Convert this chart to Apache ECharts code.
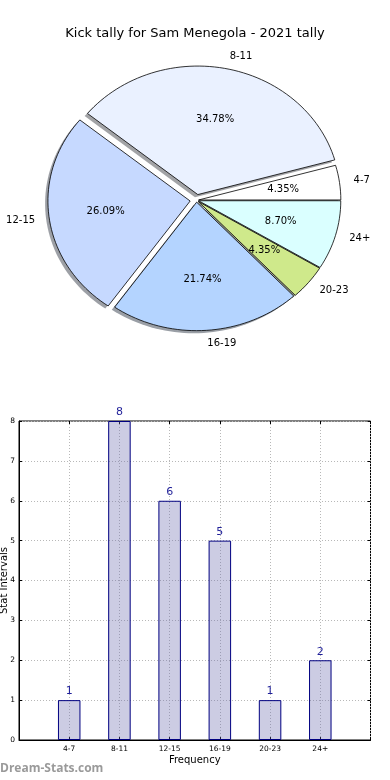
<!DOCTYPE html>
<html>
<head>
<meta charset="utf-8">
<script src="https://cdn.jsdelivr.net/npm/echarts@6/dist/echarts.min.js"></script>
<style>
html,body{margin:0;padding:0;background:#fff;}
#chart{width:390px;height:780px;}
</style>
</head>
<body>
<div id="chart"></div>
<script>
// ---- data ----
const titleText = 'Kick tally for Sam Menegola - 2021 tally';
const categories = ['4-7', '8-11', '12-15', '16-19', '20-23', '24+'];
const counts = [1, 8, 6, 5, 1, 2];
const yTicks = [0, 1, 2, 3, 4, 5, 6, 7, 8];

// ---- styles ----
const pieColors = ['#ffffff', '#eaf1ff', '#c6d9ff', '#b4d4ff', '#cfe98b', '#daffff'];
const explode = [0.015, 0.045, 0.045, 0.015, 0.015, 0.015];
const FONT = 'DejaVu Sans';

const total = counts.reduce((a, b) => a + b, 0);
let acc = 0;
const pieData = counts.map((v, i) => {
  const s = acc / total;
  acc += v;
  return [s, acc / total, v, i];
});

function shade(hex) {
  const r = parseInt(hex.slice(1, 3), 16), g = parseInt(hex.slice(3, 5), 16), b = parseInt(hex.slice(5, 7), 16);
  return 'rgba(' + Math.round(r * 0.3) + ',' + Math.round(g * 0.3) + ',' + Math.round(b * 0.3) + ',0.5)';
}

function wedgePoints(api, t1, t2, ox, oy) {
  const pts = [api.coord([ox, oy])];
  const n = Math.max(8, Math.ceil((t2 - t1) / (Math.PI / 90)));
  for (let k = 0; k <= n; k++) {
    const t = t1 + (t2 - t1) * k / n;
    pts.push(api.coord([ox + Math.cos(t), oy + Math.sin(t)]));
  }
  return pts;
}

function renderShadow(params, api) {
  const i = params.dataIndex;
  const t1 = api.value(0) * 2 * Math.PI, t2 = api.value(1) * 2 * Math.PI, tm = (t1 + t2) / 2;
  const e = explode[i];
  const ox = e * Math.cos(tm) - 0.02, oy = e * Math.sin(tm) - 0.02;
  return {
    type: 'polygon',
    shape: { points: wedgePoints(api, t1, t2, ox, oy) },
    style: { fill: shade(pieColors[i]), stroke: null }
  };
}

function renderWedge(params, api) {
  const i = params.dataIndex;
  const t1 = api.value(0) * 2 * Math.PI, t2 = api.value(1) * 2 * Math.PI, tm = (t1 + t2) / 2;
  const e = explode[i];
  const ox = e * Math.cos(tm), oy = e * Math.sin(tm);
  const lp = api.coord([ox + 1.1 * Math.cos(tm), oy + 1.1 * Math.sin(tm)]);
  const pp = api.coord([ox + 0.6 * Math.cos(tm), oy + 0.6 * Math.sin(tm)]);
  const pct = (api.value(2) / total * 100).toFixed(2) + '%';
  return {
    type: 'group',
    children: [
      {
        type: 'polygon',
        shape: { points: wedgePoints(api, t1, t2, ox, oy) },
        style: { fill: pieColors[i], stroke: '#000', lineWidth: 0.8 }
      },
      {
        type: 'text', z2: 20,
        style: {
          x: lp[0], y: lp[1], text: categories[i],
          align: Math.cos(tm) > 0 ? 'left' : 'right', verticalAlign: 'middle',
          font: '10px "' + FONT + '"', fill: '#000'
        }
      },
      {
        type: 'text', z2: 20,
        style: {
          x: pp[0], y: pp[1], text: pct,
          align: 'center', verticalAlign: 'middle',
          font: '10px "' + FONT + '"', fill: '#000'
        }
      }
    ]
  };
}

const chart = echarts.init(document.getElementById('chart'), null, { renderer: 'canvas' });

const tickLabelStyle = { fontFamily: FONT, fontSize: 7.5, color: '#000' };

const option = {
  animation: false,
  backgroundColor: '#fff',
  title: {
    text: titleText, left: 'center', top: 22,
    textStyle: { fontFamily: FONT, fontSize: 13, fontWeight: 'normal', color: '#000' }
  },
  graphic: [{
    type: 'text', left: 0, top: 763,
    style: { text: 'Dream-Stats.com', font: 'bold 12px "Open Sans"', fill: '#9a9a9a' }
  }],
  grid: [
    { left: 4.5, width: 384, top: 39.6, height: 321.25, show: false, containLabel: false, outerBoundsMode: 'none' },
    { left: 19, right: 19.5, top: 421, bottom: 40, show: true, borderColor: '#000', borderWidth: 1, backgroundColor: 'transparent', containLabel: false, outerBoundsMode: 'none' }
  ],
  xAxis: [
    { gridIndex: 0, type: 'value', min: -1.35, max: 1.35, show: false },
    {
      gridIndex: 1, type: 'value', min: -1, max: 6, interval: 1,
      name: 'Frequency', nameLocation: 'middle', nameGap: 15, nameMoveOverlap: false,
      nameTextStyle: { fontFamily: FONT, fontSize: 10, color: '#000' },
      axisLine: { show: true, onZero: false, lineStyle: { color: '#000', width: 1 } },
      axisTick: { show: true, inside: true, length: 3, lineStyle: { color: '#000' } },
      axisLabel: Object.assign({ margin: 5, formatter: v => (v >= 0 && v < categories.length) ? categories[v] : '' }, tickLabelStyle),
      splitLine: { show: true, lineStyle: { color: '#b8b8b8', type: [1, 2], width: 1 } }
    },
    {
      gridIndex: 1, type: 'value', min: -1, max: 6, interval: 1, position: 'top',
      axisLine: { show: false, onZero: false }, axisLabel: { show: false }, splitLine: { show: false },
      axisTick: { show: true, inside: true, length: 3, lineStyle: { color: '#000' } }
    }
  ],
  yAxis: [
    { gridIndex: 0, type: 'value', min: -1.25, max: 1.25, show: false },
    {
      gridIndex: 1, type: 'value', min: yTicks[0], max: yTicks[yTicks.length - 1], interval: 1,
      name: 'Stat Intervals', nameLocation: 'middle', nameGap: 10, nameMoveOverlap: false,
      nameTextStyle: { fontFamily: FONT, fontSize: 10, color: '#000' },
      axisLine: { show: true, onZero: false, lineStyle: { color: '#000', width: 1 } },
      axisTick: { show: true, inside: true, length: 3, lineStyle: { color: '#000' } },
      axisLabel: Object.assign({ margin: 4 }, tickLabelStyle),
      splitLine: { show: true, lineStyle: { color: '#b8b8b8', type: [1, 2], width: 1 } }
    },
    {
      gridIndex: 1, type: 'value', min: yTicks[0], max: yTicks[yTicks.length - 1], interval: 1, position: 'right',
      axisLine: { show: false, onZero: false }, axisLabel: { show: false }, splitLine: { show: false },
      axisTick: { show: true, inside: true, length: 3, lineStyle: { color: '#000' } }
    }
  ],
  series: [
    {
      type: 'custom', xAxisIndex: 0, yAxisIndex: 0, z: 1,
      renderItem: renderShadow, data: pieData, silent: true,
      encode: { x: 0, y: 1 }
    },
    {
      type: 'custom', xAxisIndex: 0, yAxisIndex: 0, z: 2,
      renderItem: renderWedge, data: pieData, silent: true,
      encode: { x: 0, y: 1 }
    },
    {
      type: 'bar', xAxisIndex: 1, yAxisIndex: 1,
      data: counts.map((v, i) => [i, v]),
      barWidth: 22.5,
      itemStyle: { color: 'rgba(110,110,175,0.35)', borderColor: '#000080', borderWidth: 1 },
      label: {
        show: true, position: 'top', distance: 3,
        formatter: p => String(p.value[1]),
        fontFamily: FONT, fontSize: 11, color: '#1f1f99'
      }
    }
  ]
};
chart.setOption(option);
</script>
</body>
</html>
